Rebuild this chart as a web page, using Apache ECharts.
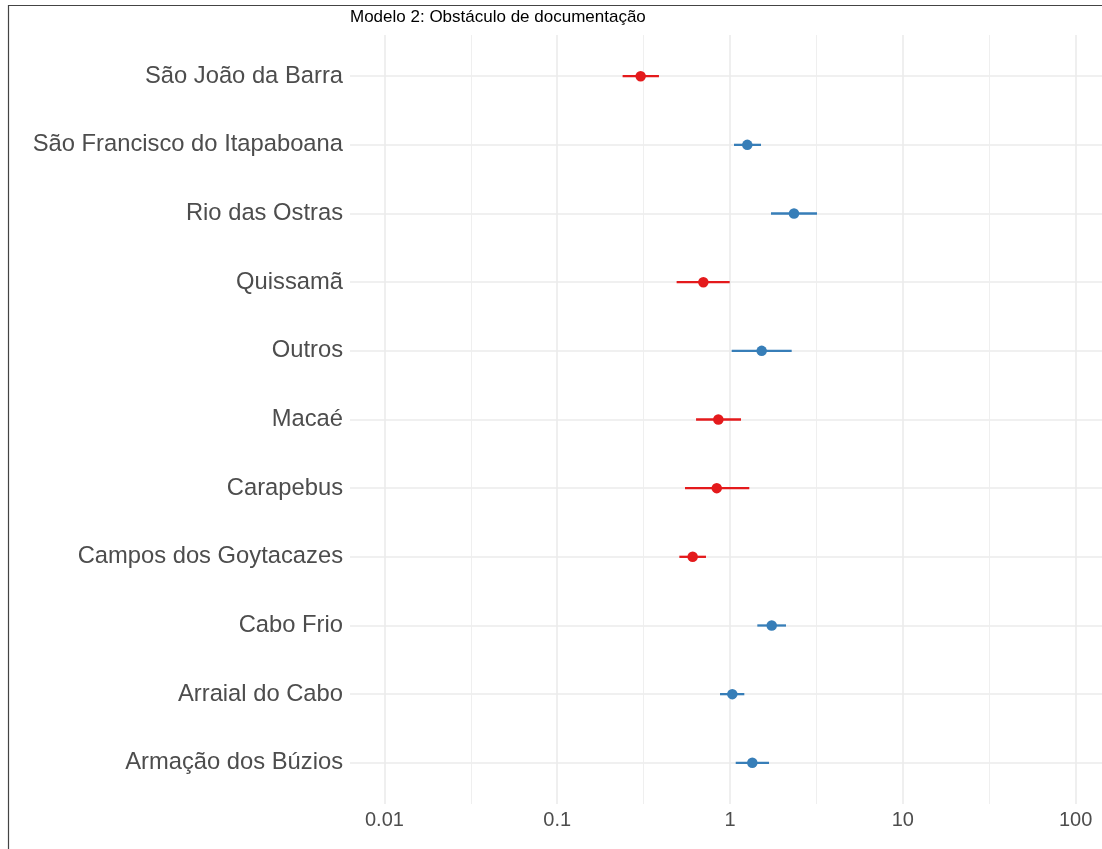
<!DOCTYPE html>
<html>
<head>
<meta charset="utf-8">
<script src="https://cdn.jsdelivr.net/npm/echarts@6/dist/echarts.min.js"></script>
<style>
  html, body { margin: 0; padding: 0; background: #fff; }
  #chart { width: 1102px; height: 849px; }
</style>
</head>
<body>
<div id="chart"></div>
<script>
// Categories listed bottom-to-top (as drawn on the y axis)
const categories = ['Armação dos Búzios', 'Arraial do Cabo', 'Cabo Frio', 'Campos dos Goytacazes',
  'Carapebus', 'Macaé', 'Outros', 'Quissamã', 'Rio das Ostras',
  'São Francisco do Itapaboana', 'São João da Barra'];
const estimate = [1.346, 1.031, 1.743, 0.608, 0.838, 0.856, 1.525, 0.701, 2.346, 1.259, 0.304];
const lower    = [1.079, 0.875, 1.439, 0.509, 0.549, 0.636, 1.023, 0.491, 1.727, 1.055, 0.239];
const upper    = [1.682, 1.210, 2.109, 0.726, 1.293, 1.158, 2.275, 0.996, 3.188, 1.511, 0.388];
const group    = ['pos', 'pos', 'pos', 'neg', 'neg', 'neg', 'pos', 'neg', 'pos', 'pos', 'neg'];
const xMajorTicks = [0.01, 0.1, 1, 10, 100];
const xMajorLabels = ['0.01', '0.1', '1', '10', '100'];
const xMinorTicks = [0.0316, 0.316, 3.16, 31.6];
const titleText = 'Modelo 2: Obstáculo de documentação';

const colors = { neg: '#E41A1C', pos: '#377EB8' };
const FONT = 'Liberation Sans, Arial, sans-serif';
const X_MIN = 0.00632, X_MAX = 142.2;
const yIdx = categories.map((c, i) => i);

const chart = echarts.init(document.getElementById('chart'), null, { renderer: 'canvas' });

const errData = categories.map((c, i) => ({
  value: [lower[i], upper[i], i],
  itemStyle: { color: colors[group[i]] }
}));
const ptData = categories.map((c, i) => ({
  value: [estimate[i], i],
  itemStyle: { color: colors[group[i]], opacity: 1 }
}));

const option = {
  animation: false,
  backgroundColor: '#fff',
  textStyle: { fontFamily: FONT },
  title: {
    text: titleText,
    left: 350, top: 9, padding: 0,
    textStyle: { fontFamily: FONT, fontSize: 17, fontWeight: 'normal', color: '#000' }
  },
  graphic: [{
    type: 'rect', silent: true, z: 100,
    shape: { x: 8.5, y: 5.5, width: 1200, height: 900 },
    style: { fill: 'none', stroke: '#444', lineWidth: 1.2 }
  }],
  grid: { left: 350, right: 0, top: 35, bottom: 45, containLabel: false },
  xAxis: [{
    type: 'log', logBase: 10, min: X_MIN, max: X_MAX,
    axisLine: { show: false },
    axisTick: { show: false, customValues: xMajorTicks },
    axisLabel: {
      customValues: xMajorTicks,
      formatter: v => { const k = xMajorTicks.findIndex(t => Math.abs(t - v) / t < 1e-6); return k >= 0 ? xMajorLabels[k] : ''; },
      fontFamily: FONT, fontSize: 20, color: '#4d4d4d', margin: 6
    },
    splitLine: { show: true, lineStyle: { color: '#ebebeb', width: 1.6 } },
    z: 1
  }, {
    type: 'log', logBase: 10, min: X_MIN, max: X_MAX, position: 'bottom',
    axisLine: { show: false },
    axisTick: { show: false, customValues: xMinorTicks },
    axisLabel: { show: false, customValues: xMinorTicks },
    splitLine: { show: true, lineStyle: { color: '#ededed', width: 0.9 } },
    z: 0
  }],
  yAxis: {
    type: 'value', min: -0.6, max: 10.6,
    axisLine: { show: false },
    axisTick: { show: false, customValues: yIdx },
    axisLabel: {
      customValues: yIdx,
      formatter: v => categories[Math.round(v)],
      fontFamily: FONT, fontSize: 23.75, color: '#4d4d4d', margin: 7
    },
    splitLine: { show: true, lineStyle: { color: '#ebebeb', width: 1.6 } }
  },
  series: [{
    type: 'custom',
    xAxisIndex: 0,
    encode: { x: [0, 1], y: 2 },
    data: errData,
    renderItem: (params, api) => {
      const p1 = api.coord([api.value(0), api.value(2)]);
      const p2 = api.coord([api.value(1), api.value(2)]);
      return {
        type: 'line',
        shape: { x1: p1[0], y1: p1[1], x2: p2[0], y2: p2[1] },
        style: { stroke: api.visual('color'), lineWidth: 2.3 }
      };
    },
    z: 3
  }, {
    type: 'scatter',
    xAxisIndex: 0,
    symbol: 'circle', symbolSize: 10.5,
    data: ptData,
    z: 4
  }]
};
chart.setOption(option);
</script>
</body>
</html>
